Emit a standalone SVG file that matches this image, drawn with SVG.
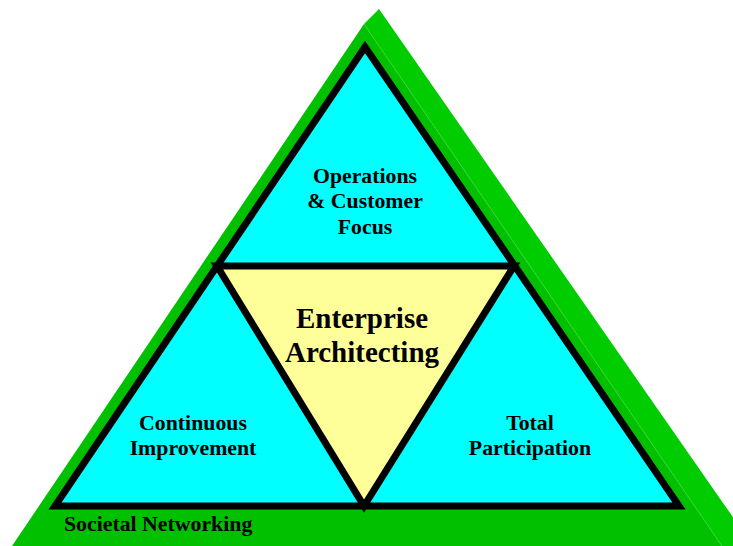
<svg xmlns="http://www.w3.org/2000/svg" width="733" height="546" viewBox="0 0 733 546">
<style>
.lbl{font-family:"Liberation Serif","Times New Roman",serif;font-weight:bold;fill:#000;text-anchor:middle}
.s{font-size:21.8px}
.b{font-size:29px}
.tri{stroke:#000;stroke-width:7;stroke-linejoin:miter}
</style>
<rect width="733" height="546" fill="#fff"/>
<g id="base">
<polygon points="364,24 379,9 753,546 722,546" fill="#00CC00"/>
<polygon points="364,24 12,546 722,546" fill="#00C000"/>
<line x1="364" y1="24" x2="722" y2="546" stroke="#30D830" stroke-width="1"/>
<text class="lbl s" x="64" y="531" style="text-anchor:start">Societal Networking</text>
</g>
<g id="outer">
<polygon class="tri" points="365,47 55,506 679,506" fill="#00FFFF"/>
</g>
<g id="top">
<text class="lbl s" x="365" y="183">Operations</text>
<text class="lbl s" x="365" y="208">&amp; Customer</text>
<text class="lbl s" x="365" y="234">Focus</text>
</g>
<g id="left">
<text class="lbl s" x="193" y="430">Continuous</text>
<text class="lbl s" x="193" y="455">Improvement</text>
</g>
<g id="right">
<text class="lbl s" x="530" y="430">Total</text>
<text class="lbl s" x="530" y="455">Participation</text>
</g>
<g id="center">
<polygon class="tri" points="217,266 514,266 364,506" fill="#FFFF99"/>
<text class="lbl b" x="362" y="328">Enterprise</text>
<text class="lbl b" x="362" y="362">Architecting</text>
</g>
<g id="connectors"></g>
</svg>
